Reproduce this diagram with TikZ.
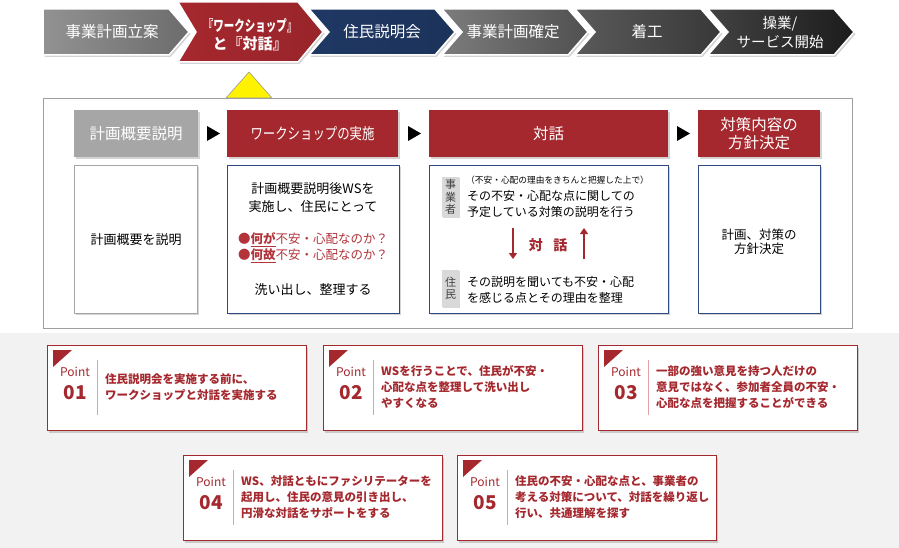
\documentclass[tikz,border=0pt]{standalone}
\usepackage{fontspec}
\setmainfont{Noto Sans CJK JP}
\usepackage{graphicx}
\usetikzlibrary{shadows,arrows.meta}
\definecolor{cred}{HTML}{A5282E}
\definecolor{tred}{HTML}{B2343A}
\definecolor{cblue}{HTML}{1F3864}
\definecolor{bblue}{HTML}{2F4A80}
\definecolor{hgray}{HTML}{A6A6A6}
\definecolor{bandgray}{HTML}{F2F2F2}
\definecolor{tabgray}{HTML}{D9D9D9}
\definecolor{sepred}{HTML}{DFA3A6}
\definecolor{gza}{HTML}{929292}
\definecolor{gzb}{HTML}{6C6C6C}
\definecolor{gta}{HTML}{7C7C7C}
\definecolor{gtb}{HTML}{505050}
\definecolor{gfa}{HTML}{5A5A5A}
\definecolor{gfb}{HTML}{383838}
\definecolor{gva}{HTML}{424242}
\definecolor{gvb}{HTML}{1C1C1C}
\newcommand\fsz[2]{\fontsize{#1}{#2}\selectfont}
\newcommand\ptbox[5]{%
  \node[pbox] (#1) at (#2,#3) {};
  \fill[cred] (#2+6,#3+5) -- (#2+25,#3+5) -- (#2+6,#3+22) -- cycle;
  \node[ptlabel] (#1p) at (#2+28,#3+27) {Point};
  \node[ptnum] (#1n) at (#2+28,#3+48) {#4};
  \draw[sepred, line width=0.8pt] (#2+50,#3+15) -- (#2+50,#3+70);
  \node[pttext] (#1t) at (#2+58,#3+42) {#5};
}
\begin{document}
\begin{tikzpicture}[x=1pt,y=-1pt,
  shad/.style={drop shadow={opacity=0.35, shadow xshift=1.5pt, shadow yshift=-2pt}},
  chev/.style={draw=white, line width=1.5pt, shad},
  chevtext/.style={text=white, align=center, inner sep=0, font=\fsz{15.5}{19}},
  hdr/.style={minimum height=47, inner sep=0, text=white, align=center, shad, font=\fsz{15.5}{18}},
  cbox/.style={draw=bblue, line width=0.9pt, fill=white, minimum height=148, inner sep=0, shad},
  btext/.style={align=center, inner sep=0, font=\fsz{13}{18}},
  ltext/.style={anchor=west, align=left, inner sep=0, font=\fsz{12}{16}},
  tab/.style={fill=tabgray, minimum width=17, inner sep=0, text=black!75, align=center, font=\fsz{11}{12.5}, drop shadow={opacity=0.3, shadow xshift=1pt, shadow yshift=-1pt}},
  pbox/.style={draw=cred, line width=1.3pt, fill=white, anchor=north west, minimum width=259, minimum height=85, inner sep=0, shad},
  ptlabel/.style={text=cred, inner sep=0, font=\fsz{12}{14}},
  ptnum/.style={text=cred, inner sep=0, font=\bfseries\fsz{19}{22}},
  pttext/.style={anchor=west, align=left, inner sep=0, text=cred, font=\bfseries\fsz{11.5}{16}}
]
\useasboundingbox (0,0) rectangle (899,548);
% bottom band
\fill[bandgray] (0,333) rectangle (899,548);

% process chevrons
\path[chev, left color=gza, right color=gzb] (43,9) -- (169,9) -- (189,32) -- (169,55) -- (43,55) -- cycle;
\node[chevtext] (c0) at (112,32) {事業計画立案};
\path[chev, left color=cblue, right color=cblue!90!black] (309,9) -- (435,9) -- (455,32) -- (435,55) -- (309,55) -- (329,32) -- cycle;
\node[chevtext] (c2) at (382,32) {住民説明会};
\path[chev, left color=gta, right color=gtb] (442,9) -- (568,9) -- (588,32) -- (568,55) -- (442,55) -- (462,32) -- cycle;
\node[chevtext] (c3) at (513,32) {事業計画確定};
\path[chev, left color=gfa, right color=gfb] (575,9) -- (701,9) -- (721,32) -- (701,55) -- (575,55) -- (595,32) -- cycle;
\node[chevtext] (c4) at (647,32) {着工};
\path[chev, left color=gva, right color=gvb] (708,9) -- (834,9) -- (854,32) -- (834,55) -- (708,55) -- (728,32) -- cycle;
\node[chevtext, font=\fsz{14.5}{19}] (c5) at (780,33) {操業/\\サービス開始};
\path[chev, left color=cred, right color=cred!92!black] (178,2) -- (298,2) -- (323,32) -- (298,62) -- (178,62) -- (196,32) -- cycle;
\node[chevtext, font=\bfseries\fsz{15}{18}] (c1) at (250,35) {\scalebox{0.7}[1]{『ワークショップ』}\\と『対話』};

% yellow marker and panel
\filldraw[fill=yellow, draw=gray!80, line width=0.6pt] (249,72) -- (272,98) -- (226,98) -- cycle;
\node[draw=gray!75, line width=0.9pt, anchor=north west, minimum width=809, minimum height=230, inner sep=0] (panel) at (43,98) {};

% headers
\node[hdr, fill=hgray, minimum width=124] (h1) at (136,133.5) {計画概要説明};
\node[hdr, fill=cred, minimum width=171] (h2) at (312.5,133.5) {\scalebox{0.8}[1]{ワークショップの実施}};
\node[hdr, fill=cred, minimum width=239] (h3) at (548.5,133.5) {対話};
\node[hdr, fill=cred, minimum width=122] (h4) at (759,133.5) {対策内容の\\方針決定};
\fill (207,126) -- (220,133.5) -- (207,141) -- cycle;
\fill (408,126) -- (421,133.5) -- (408,141) -- cycle;
\fill (677,126) -- (690,133.5) -- (677,141) -- cycle;

% content boxes
\node[cbox, draw=gray!70, minimum width=123] (b1) at (135.5,239) {};
\node[cbox, minimum width=172] (b2) at (313,239) {};
\node[cbox, minimum width=239] (b3) at (548.5,239) {};
\node[cbox, minimum width=122] (b4) at (759,239) {};

\node[btext] (t1) at (136,240) {計画概要を説明};
\node[btext] (t2a) at (313,198) {計画概要説明後WSを\\実施し、住民にとって};
\node[btext, align=left, text=tred, font=\fsz{12.5}{15.5}] (t2b) at (313,247.5) {●\underline{\textbf{何が}}不安・心配なのか？\\●\underline{\textbf{何故}}不安・心配なのか？};
\node[btext] (t2c) at (313,290) {洗い出し、整理する};

\node[tab, minimum height=40] (tabA) at (450.5,197) {事\\業\\者};
\node[tab, minimum height=37] (tabB) at (450.5,288.5) {住\\民};
\node[ltext, font=\fsz{8.7}{10}] (t3a) at (466,180) {（不安・心配の理由をきちんと把握した上で）};
\node[ltext] (t3b) at (467,203.5) {その不安・心配な点に関しての\\予定している対策の説明を行う};
\node[ltext] (t3c) at (467,289.5) {その説明を聞いても不安・心配\\を感じる点とその理由を整理};
\coordinate (dA) at (513,228);
\coordinate (dB) at (513,259);
\coordinate (uA) at (584,259);
\coordinate (uB) at (584,228);
\draw[cred, line width=2.6pt, -{Triangle[length=6pt, width=8pt]}] (dA) -- (dB);
\draw[cred, line width=2.6pt, -{Triangle[length=6pt, width=8pt]}] (uA) -- (uB);
\node[inner sep=0, text=cred, font=\bfseries\fsz{14}{16}] (dlg) at (548,245) {対\hspace{0.75em}話};

\node[btext, font=\fsz{12.5}{14.5}] (t4) at (759,242) {計画、対策の\\方針決定};

% points
\ptbox{p1}{47}{345}{01}{住民説明会を実施する前に、\\ワークショップと対話を実施する}
\ptbox{p2}{323}{345}{02}{WSを行うことで、住民が不安・\\心配な点を整理して洗い出し\\やすくなる}
\ptbox{p3}{598}{345}{03}{一部の強い意見を持つ人だけの\\意見ではなく、参加者全員の不安・\\心配な点を把握することができる}
\ptbox{p4}{183}{455}{04}{WS、対話ともにファシリテーターを\\起用し、住民の意見の引き出し、\\円滑な対話をサポートをする}
\ptbox{p5}{457}{455}{05}{住民の不安・心配な点と、事業者の\\考える対策について、対話を繰り返し\\行い、共通理解を探す}
\end{tikzpicture}
\end{document}
